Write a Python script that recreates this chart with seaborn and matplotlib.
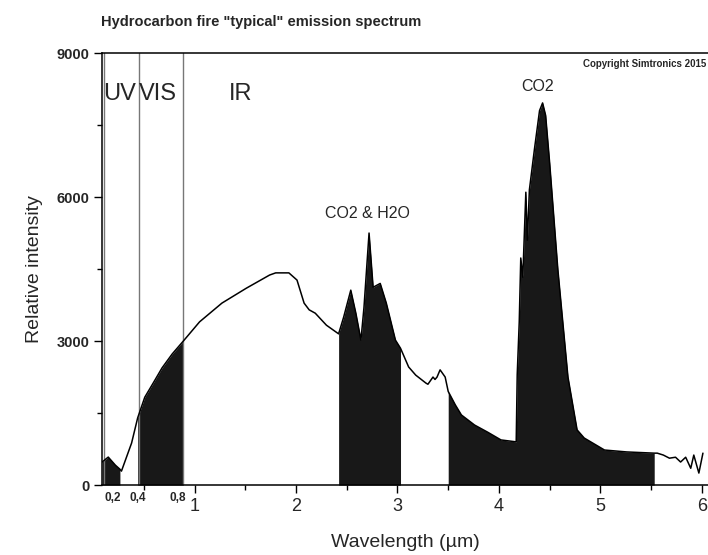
import matplotlib
matplotlib.use("Agg")
from matplotlib import pyplot as plt
from matplotlib.ticker import MultipleLocator
import matplotlib.transforms as mtransforms
import seaborn as sns
import numpy as np
import pandas as pd

# spectrum (wavelength in um, relative intensity)
wavelength = [0.09, 0.15, 0.22, 0.265, 0.28, 0.38, 0.44, 0.51, 0.60, 0.68, 0.78, 0.89,
              1.05, 1.27, 1.51, 1.74, 1.80, 1.93, 2.01, 2.08, 2.13, 2.19, 2.30,
              2.42, 2.47, 2.54, 2.59, 2.64, 2.67, 2.72, 2.76, 2.83, 2.89, 2.98, 3.03,
              3.11, 3.18, 3.28, 3.30, 3.35, 3.37, 3.39, 3.42, 3.47, 3.50,
              3.57, 3.63, 3.76, 3.89, 4.02, 4.17,
              4.18, 4.20, 4.215, 4.235, 4.265, 4.28, 4.30, 4.35, 4.40, 4.43, 4.46,
              4.50, 4.58, 4.68, 4.77, 4.84, 5.04, 5.26, 5.53,
              5.56, 5.62, 5.68, 5.74, 5.79, 5.84, 5.89, 5.92, 5.97, 6.01]
intensity = [480, 583, 415, 330, 290, 875, 1400, 1830, 2150, 2440, 2730, 3000,
             3400, 3790, 4100, 4375, 4420, 4420, 4270, 3790, 3650, 3580, 3330,
             3150, 3500, 4060, 3580, 3020, 3700, 5250, 4120, 4200, 3790, 3020, 2850,
             2460, 2290, 2125, 2100, 2250, 2200, 2250, 2400, 2250, 1950,
             1670, 1460, 1250, 1100, 940, 900,
             2300, 3400, 4730, 4330, 6100, 5100, 6150, 7000, 7800, 7960, 7700,
             6700, 4500, 2250, 1150, 980, 730, 690, 665,
             665, 625, 560, 580, 480, 580, 350, 625, 250, 665]

# shaded emission bands (um)
bands = [(0.09, 0.265), (0.44, 0.89), (2.42, 3.03), (3.50, 5.53)]
region_lines = [0.105, 0.45, 0.89]
region_names = ["UV", "VIS", "IR"]
region_x = [0.10, 0.45, 1.34]
small_ticks = ["0,2", "0,4", "0,8"]
small_ticks_x = [0.19, 0.44, 0.83]

df = pd.DataFrame({"wl": wavelength, "inten": intensity})

sns.set_theme(style="ticks")
plt.rcParams["font.family"] = ["Liberation Sans", "DejaVu Sans"]

fig = plt.figure(figsize=(7.08, 5.55), dpi=100)
ax = fig.add_axes([0.144, 0.126, 0.856, 0.7785])

wl = df["wl"].to_numpy()
yy = df["inten"].to_numpy()
for lo, hi in bands:
    ax.fill_between(wl, 0, yy, where=(wl >= lo - 1e-9) & (wl <= hi + 1e-9),
                    color="#181818", linewidth=0)

sns.lineplot(data=df, x="wl", y="inten", ax=ax, color="black", linewidth=1.1,
             estimator=None, sort=False)

for xv in region_lines:
    ax.axvline(xv, color="#777777", linewidth=1.0, zorder=1)

ax.set_xlim(0.088, 6.06)
ax.set_ylim(0, 9000)

ax.set_yticks([0, 3000, 6000, 9000])
ax.yaxis.set_minor_locator(MultipleLocator(1500))
ax.set_xticks([1, 2, 3, 4, 5, 6])
ax.xaxis.set_minor_locator(MultipleLocator(0.5))
ax.tick_params(axis="both", which="major", direction="out", length=6, width=1,
               color="black")
ax.tick_params(axis="both", which="minor", direction="out", length=3.5, width=1,
               color="black")
ax.tick_params(axis="y", labelsize=10.5, pad=3)
ax.tick_params(axis="x", labelsize=13, pad=3)
for lab in ax.get_yticklabels():
    lab.set_fontweight("bold")

for side in ["left", "bottom", "top"]:
    ax.spines[side].set_color("black")
    ax.spines[side].set_linewidth(1.1)
ax.spines["right"].set_visible(False)

ax.set_xlabel("Wavelength (\u00b5m)", fontsize=14, labelpad=14)
ax.set_ylabel("Relative intensity", fontsize=14, labelpad=10)

trans = mtransforms.blended_transform_factory(ax.transData, ax.transAxes)
for lab, xv in zip(small_ticks, small_ticks_x):
    ax.text(xv, -0.03, lab, transform=trans, ha="center", va="center",
            fontsize=8.5, fontweight="bold")

for name, xv in zip(region_names, region_x):
    ax.text(xv, 8150, name, ha="left", va="center", fontsize=17)

ax.text(2.70, 5650, "CO2 & H2O", ha="center", va="center", fontsize=11.5)
ax.text(4.38, 8300, "CO2", ha="center", va="center", fontsize=11.5)
ax.text(0.997, 0.975, "Copyright Simtronics 2015", transform=ax.transAxes,
        ha="right", va="center", fontsize=7, fontweight="bold")

fig.text(0.142, 0.96, "Hydrocarbon fire \"typical\" emission spectrum",
         ha="left", va="center", fontsize=10.5, fontweight="bold")

fig.savefig("out.png", dpi=100)
